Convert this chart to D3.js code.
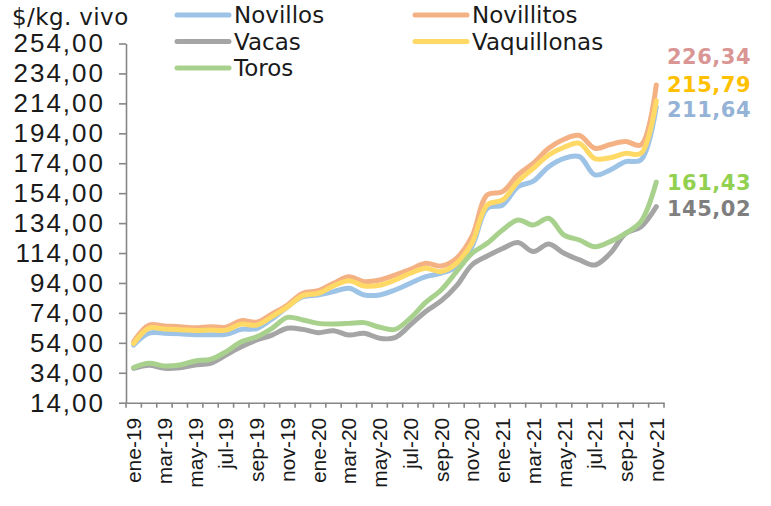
<!DOCTYPE html>
<html>
<head>
<meta charset="utf-8">
<script src="https://cdn.jsdelivr.net/npm/d3@7"></script>
<style>
  html, body { margin: 0; padding: 0; background: #ffffff; }
  #chart { width: 771px; height: 506px; }
</style>
</head>
<body>
<div id="chart"></div>
<script>
// Months ene-19 .. nov-21
const months = [
    'ene-19', 'feb-19', 'mar-19', 'abr-19', 'may-19', 'jun-19', 'jul-19', 'ago-19', 'sep-19', 'oct-19', 'nov-19', 'dic-19',
    'ene-20', 'feb-20', 'mar-20', 'abr-20', 'may-20', 'jun-20', 'jul-20', 'ago-20', 'sep-20', 'oct-20', 'nov-20', 'dic-20',
    'ene-21', 'feb-21', 'mar-21', 'abr-21', 'may-21', 'jun-21', 'jul-21', 'ago-21', 'sep-21', 'oct-21', 'nov-21'
];

// $/kg. vivo
const novillos = [
    52.6, 60.4, 60.4, 60.0, 59.4, 59.4, 59.7, 63.0, 63.5, 70.0, 78.0, 84.8,
    86.0, 88.2, 90.4, 86.0, 86.0, 89.3, 93.8, 98.2, 100.5, 104.9, 118.2, 143.9,
    146.1, 158.3, 162.0, 171.7, 177.3, 178.4, 166.2, 169.5, 175.0, 176.2, 211.64
];
const novillitos = [
    54.8, 65.9, 65.2, 64.8, 64.1, 64.8, 64.5, 68.8, 67.8, 73.3, 79.3, 87.1,
    88.8, 93.8, 98.2, 94.9, 96.0, 99.3, 103.1, 107.1, 105.3, 110.5, 124.9, 152.8,
    155.0, 166.2, 174.0, 184.0, 190.0, 192.5, 184.0, 186.5, 188.5, 186.2, 226.34
];
const vacas = [
    37.0, 39.0, 37.0, 37.4, 39.2, 40.3, 45.9, 51.4, 55.9, 59.2, 63.7, 63.0,
    60.8, 62.1, 59.2, 60.4, 57.0, 57.5, 66.0, 75.0, 82.0, 92.0, 106.0, 112.0,
    117.0, 121.0, 115.0, 120.0, 113.8, 109.4, 106.0, 113.8, 127.0, 131.6, 145.02
];
const vaquillonas = [
    53.5, 63.8, 63.2, 62.8, 62.2, 62.6, 62.5, 66.5, 65.8, 71.5, 78.0, 85.5,
    87.0, 92.0, 95.5, 92.0, 92.5, 96.0, 100.5, 103.8, 101.6, 107.1, 120.5, 146.1,
    149.5, 161.7, 170.6, 179.5, 184.7, 187.3, 177.1, 177.7, 180.6, 180.6, 215.79
];
const toros = [
    37.5, 40.3, 38.5, 39.2, 41.9, 43.0, 48.0, 54.8, 58.0, 63.7, 71.0, 69.3,
    67.0, 66.6, 67.0, 67.5, 64.4, 63.0, 70.5, 81.0, 89.3, 101.5, 113.8, 120.5,
    129.4, 136.1, 132.7, 137.2, 126.0, 122.7, 118.2, 121.6, 127.2, 135.0, 161.43
];

const seriesNames = ['Novillos', 'Novillitos', 'Vacas', 'Vaquillonas', 'Toros'];
const yTicks = [14, 34, 54, 74, 94, 114, 134, 154, 174, 194, 214, 234, 254];

const series = [
    { name: 'Novillos', values: novillos, color: '#9dc3e6', label: '#95b3d7', labelDy: 3 },
    { name: 'Novillitos', values: novillitos, color: '#f4b183', label: '#d99694', labelDy: -28 },
    { name: 'Vacas', values: vacas, color: '#a5a5a5', label: '#7f7f7f', labelDy: 2 },
    { name: 'Vaquillonas', values: vaquillonas, color: '#ffd966', label: '#ffc000', labelDy: -16 },
    { name: 'Toros', values: toros, color: '#a9d18e', label: '#92d050', labelDy: 0 }
];

const esLocale = d3.formatLocale({ decimal: ',', thousands: '.', grouping: [3], currency: ['$', ''] });
const fmt = esLocale.format('.2f');

function renderChart(container) {
    const width = 771;
    const height = 506;
    const plot = { left: 126, right: 664, top: 43.5, bottom: 402.7 };

    const svg = d3.select(container)
        .append('svg')
        .attr('width', width)
        .attr('height', height)
        .style('font-family', 'DejaVu Sans, Verdana, sans-serif');

    const x = d3.scaleBand()
        .domain(months)
        .range([plot.left, plot.right]);

    const y = d3.scaleLinear()
        .domain([14, 254])
        .range([plot.bottom, plot.top]);

    const cx = m => x(m) + x.bandwidth() / 2;

    // Axis title
    svg.append('text')
        .attr('x', 12)
        .attr('y', 25)
        .style('font-size', '23px')
        .style('letter-spacing', '0.4px')
        .style('fill', '#1a1a1a')
        .text('$/kg. vivo');

    // Y axis
    const yAxis = svg.append('g')
        .attr('transform', `translate(${plot.left},0)`)
        .call(d3.axisLeft(y).tickValues(yTicks).tickFormat(fmt).tickSize(7).tickPadding(14).tickSizeOuter(0));
    yAxis.select('.domain').attr('stroke', '#868686').attr('stroke-width', 1.6);
    yAxis.selectAll('.tick line').attr('stroke', '#868686').attr('stroke-width', 1.6);
    yAxis.selectAll('.tick text')
        .style('font-size', '26px')
        .style('letter-spacing', '2px')
        .style('fill', '#1a1a1a');

    // X axis: labels every 2 months, ticks between categories
    const xAxis = svg.append('g')
        .attr('transform', `translate(0,${plot.bottom})`)
        .call(d3.axisBottom(x).tickValues(months.filter((d, i) => i % 2 === 0)).tickSize(0).tickSizeOuter(0));
    xAxis.select('.domain').attr('stroke', '#868686').attr('stroke-width', 1.6);
    xAxis.selectAll('.tick text')
        .attr('transform', 'rotate(-90)')
        .attr('x', -15)
        .attr('y', 0)
        .attr('dy', '0.36em')
        .attr('text-anchor', 'end')
        .style('font-size', '21px')
        .style('fill', '#1a1a1a');

    xAxis.selectAll('line.between')
        .data(d3.range(months.length + 1))
        .enter()
        .append('line')
        .attr('class', 'between')
        .attr('x1', i => plot.left + i * x.step())
        .attr('x2', i => plot.left + i * x.step())
        .attr('y1', 0)
        .attr('y2', 5)
        .attr('stroke', '#868686')
        .attr('stroke-width', 1.6);

    // Series lines
    const line = d3.line()
        .x((d, i) => cx(months[i]))
        .y(d => y(d))
        .curve(d3.curveCatmullRom.alpha(0.5));

    svg.append('g')
        .selectAll('path')
        .data(series)
        .enter()
        .append('path')
        .attr('d', d => line(d.values))
        .attr('fill', 'none')
        .attr('stroke', d => d.color)
        .attr('stroke-width', 5)
        .attr('stroke-linecap', 'round')
        .attr('stroke-linejoin', 'round');

    // Last value labels
    svg.append('g')
        .selectAll('text')
        .data(series)
        .enter()
        .append('text')
        .attr('x', 751)
        .attr('y', d => y(d.values[d.values.length - 1]) + d.labelDy)
        .attr('dy', '0.36em')
        .attr('text-anchor', 'end')
        .style('font-size', '21px')
        .style('letter-spacing', '0.5px')
        .style('font-weight', 'bold')
        .style('fill', d => d.label)
        .text(d => fmt(d.values[d.values.length - 1]));

    // Legend (3 rows x 2 columns)
    const legend = svg.append('g');
    const legendItems = legend.selectAll('g')
        .data(seriesNames)
        .enter()
        .append('g')
        .attr('transform', (d, i) => `translate(${i % 2 === 0 ? 177 : 415},${15 + Math.floor(i / 2) * 26.5})`);

    legendItems.append('line')
        .attr('x1', 0)
        .attr('x2', 52)
        .attr('stroke', d => series.find(s => s.name === d).color)
        .attr('stroke-width', 5)
        .attr('stroke-linecap', 'round');

    legendItems.append('text')
        .attr('x', 57)
        .attr('dy', '0.36em')
        .style('font-size', '23px')
        .style('fill', '#1a1a1a')
        .text(d => d);
}

renderChart(document.getElementById('chart'));
</script>
</body>
</html>
